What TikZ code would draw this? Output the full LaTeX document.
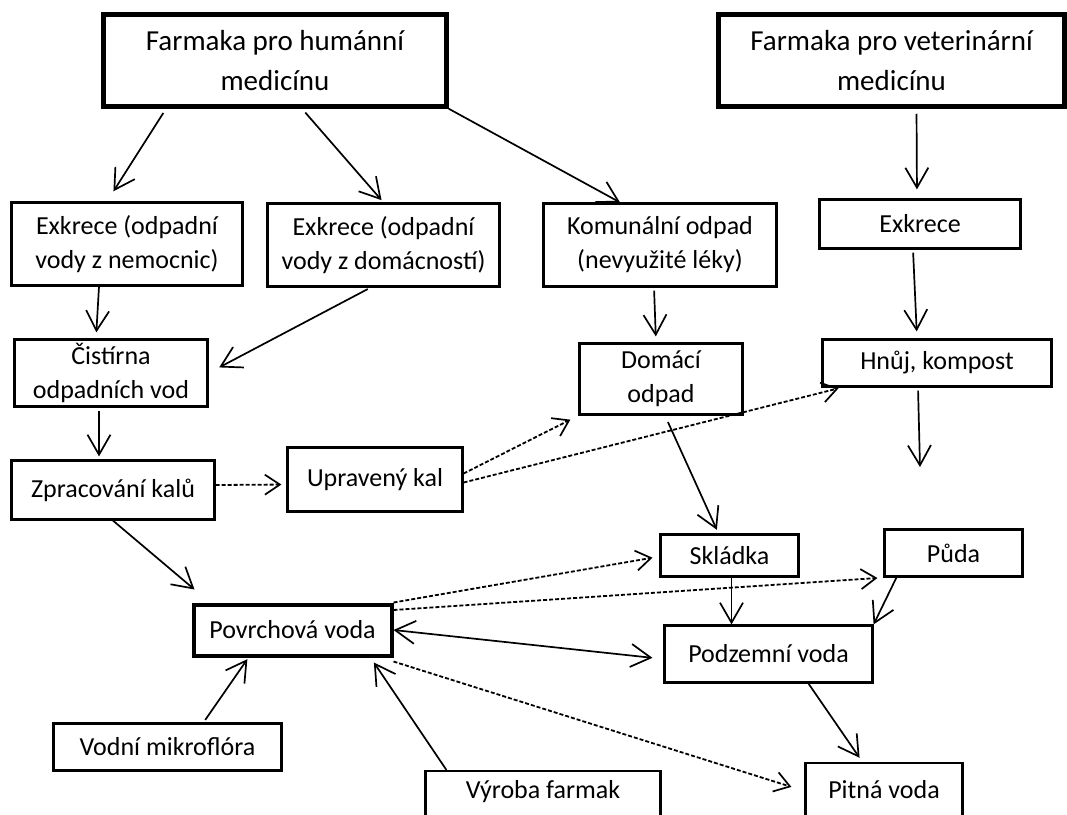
\documentclass[tikz,border=0pt]{standalone}
\usepackage{fontspec}
\setmainfont{Carlito}
\usetikzlibrary{arrows.meta}

\begin{document}
\begin{tikzpicture}[x=1pt,y=-1pt,
  box/.style={shape=rectangle,draw=black,align=center,line width=2.2pt,inner sep=0pt,font=\fontsize{26}{34}\selectfont},
  bigbox/.style={box,line width=4.5pt,font=\fontsize{29}{40}\selectfont},
  link/.style={line width=1.7pt,-{Straight Barb[length=20pt,width=23pt,line width=1.7pt]}},
  dlink/.style={line width=1.8pt,dash pattern=on 4pt off 2pt,-{Straight Barb[length=15pt,width=20pt,line width=1.7pt]}}]
\clip (0,0) rectangle (1067,814);
\node[bigbox,minimum width=343pt,minimum height=92pt] (0) at (275,60.5) {Farmaka pro humánní\\medicínu};
\node[bigbox,minimum width=346pt,minimum height=92pt] (1) at (891.5,60.5) {Farmaka pro veterinární\\medicínu};
\node[box,minimum width=231pt,minimum height=83pt] (2) at (127,244) {Exkrece (odpadní\\vody z nemocnic)};
\node[box,minimum width=232pt,minimum height=83pt] (3) at (383.5,245) {Exkrece (odpadní\\vody z domácností)};
\node[box,minimum width=233pt,minimum height=83pt] (4) at (660,245) {Komunální odpad\\(nevyužité léky)};
\node[box,minimum width=201pt,minimum height=49pt] (5) at (920,224) {Exkrece};
\node[box,minimum width=193pt,minimum height=67pt] (6) at (111,373) {Čistírna\\odpadních vod};
\node[box,minimum width=163pt,minimum height=71pt] (7) at (661,379) {Domácí\\odpad};
\node[box,minimum width=229pt,minimum height=47pt] (8) at (937,363) {Hnůj, kompost};
\node[box,minimum width=203pt,minimum height=59pt] (9) at (113,490) {Zpracování kalů};
\node[box,minimum width=175pt,minimum height=64pt] (10) at (375,479.5) {Upravený kal};
\node[box,line width=4pt,minimum width=198pt,minimum height=51pt] (11) at (292.5,630) {Povrchová voda};
\node[box,minimum width=138pt,minimum height=42pt] (12) at (729.5,555.5) {Skládka};
\node[box,minimum width=138pt,minimum height=47pt] (13) at (953.5,553) {Půda};
\node[box,minimum width=208pt,minimum height=57pt] (14) at (768.5,654) {Podzemní voda};
\node[box,minimum width=228pt,minimum height=47pt] (15) at (167.5,747) {Vodní mikroflóra};
\node[box,anchor=base,text height=27pt,text depth=40pt,minimum width=235pt] (16) at (543,798) {Výroba farmak};
\node[box,anchor=base,text height=35pt,text depth=40pt,minimum width=157pt] (17) at (884,798) {Pitná voda};
\coordinate (18) at (920,467);

\draw[link,shorten <=5pt,shorten >=12pt] ([xshift=-109pt]0.south) -- ([xshift=-20pt]2.north);
\draw[link,shorten <=5pt,shorten >=3pt] ([xshift=27pt]0.south) -- (3.north);
\draw[link] (0.south east) -- ([xshift=-40pt]4.north);
\draw[link,shorten <=5pt,shorten >=9pt] ([xshift=25pt]1.south) -- ([xshift=-3pt]5.north);
\draw[link,shorten >=6pt] ([xshift=-28pt]2.south) -- ([xshift=-15pt]6.north);
\draw[link,shorten <=3pt,shorten >=12pt] ([xshift=-13pt]3.south) -- (6.east);
\draw[link,shorten <=3pt,shorten >=3pt] ([xshift=-12pt]6.south) -- ([xshift=-14pt]9.north);
\draw[link,shorten <=3pt,shorten >=6pt] ([xshift=-6pt]4.south) -- ([xshift=-5pt]7.north);
\draw[link,shorten <=3pt,shorten >=7pt] ([xshift=-7pt]5.south) -- ([xshift=-20pt]8.north);
\draw[link,shorten <=3pt] ([xshift=-19pt]8.south) -- (18);
\draw[dlink,shorten >=5pt] ([yshift=5pt]9.east) -- ([yshift=-5pt]10.west);
\draw[dlink,shorten >=9pt] ([yshift=6pt]10.east) -- (7.south west);
\draw[dlink,shorten >=3pt] ([yshift=-3pt]10.east) -- ([xshift=20pt]8.south west);
\draw[link,shorten <=7pt,shorten >=4pt] ([xshift=4pt]7.south) -- ([xshift=-11pt]12.north);
\draw[link] (9.south) -- ([shift={(3pt,13pt)}]11.north west);
\draw[dlink,shorten >=7pt] (11.north east) -- ([yshift=-1pt]12.west);
\draw[dlink,shorten >=6pt] ([yshift=20pt]11.east) -- (13.south west);
\draw[link,{Straight Barb[length=20pt,width=23pt,line width=1.7pt]}-{Straight Barb[length=20pt,width=23pt,line width=1.7pt]},shorten >=11pt] (11.east) -- ([yshift=-5pt]14.west);
\draw[dlink] ([yshift=-4pt]11.east |- 11.south) -- ([shift={(-13pt,-25pt)}]17.north west);
\draw[link] ([xshift=2pt]12.south) -- ([xshift=-37pt]14.north);
\draw[link] ([xshift=13pt]13.south west) -- (14.north east);
\draw[link,shorten >=5pt] ([xshift=40pt]14.south) -- ([xshift=58pt]17.north west);
\draw[link,shorten <=3pt,shorten >=2pt] ([xshift=36pt]15.north) -- ([xshift=-44pt]11.south);
\draw[link,shorten >=6pt] ([xshift=22pt]16.north west) -- ([xshift=-23pt]11.south east);
\end{tikzpicture}
\end{document}
